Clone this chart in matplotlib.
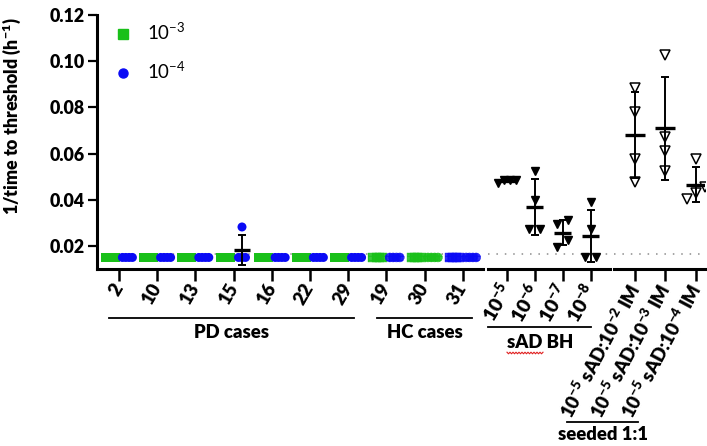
import matplotlib
matplotlib.use('Agg')
import matplotlib.pyplot as plt
from matplotlib.lines import Line2D
import numpy as np

plt.rcParams['font.family'] = ['Lato', 'DejaVu Sans']
plt.rcParams['mathtext.fontset'] = 'custom'
plt.rcParams['mathtext.rm'] = 'Lato'
plt.rcParams['mathtext.bf'] = 'Lato:heavy'
plt.rcParams['mathtext.it'] = 'Lato:italic'
plt.rcParams['hatch.color'] = '#202020'
plt.rcParams['hatch.linewidth'] = 0.7

# ---- data ----
pd_cases = ['2', '10', '13', '15', '16', '22', '29']
hc_cases = ['19', '30', '31']

# 1/time to threshold for 10^-3 and 10^-4 dilutions, 4 replicates each
pd_e3 = [[0.015, 0.015, 0.015, 0.015],
         [0.015, 0.015, 0.015, 0.015],
         [0.015, 0.015, 0.015, 0.015],
         [0.015, 0.015, 0.015, 0.015],
         [0.015, 0.015, 0.015, 0.015],
         [0.015, 0.015, 0.015, 0.015],
         [0.015, 0.015, 0.015, 0.015]]
pd_e4 = [[0.015, 0.015, 0.015, 0.015],
         [0.015, 0.015, 0.015, 0.015],
         [0.015, 0.015, 0.015, 0.015],
         [0.0282, 0.015, 0.015, 0.015],
         [0.015, 0.015, 0.015, 0.015],
         [0.015, 0.015, 0.015, 0.015],
         [0.015, 0.015, 0.015, 0.015]]
hc_e3 = [[0.015, 0.015, 0.015, 0.015],
         [0.015, 0.015, 0.015, 0.015],
         [0.015, 0.015, 0.015, 0.015]]
hc_e4 = [[0.015, 0.015, 0.015, 0.015],
         [0.015, 0.015, 0.015, 0.015],
         [0.015, 0.015, 0.015, 0.015]]

sad_labels = [r'$\mathbf{10^{-5}}$', r'$\mathbf{10^{-6}}$',
              r'$\mathbf{10^{-7}}$', r'$\mathbf{10^{-8}}$']
sad_vals = [[0.0486, 0.0486, 0.0486, 0.0474],
            [0.0526, 0.0399, 0.0272, 0.0272],
            [0.0295, 0.0313, 0.0226, 0.0197],
            [0.0388, 0.0272, 0.0154, 0.0154]]

seed_labels = [r'$\mathbf{10^{-5}}$ sAD:$\mathbf{10^{-2}}$ IM',
               r'$\mathbf{10^{-5}}$ sAD:$\mathbf{10^{-3}}$ IM',
               r'$\mathbf{10^{-5}}$ sAD:$\mathbf{10^{-4}}$ IM']
seed_vals = [[0.0882, 0.0781, 0.0576, 0.0475],
             [0.1028, 0.0673, 0.0612, 0.0523],
             [0.0576, 0.0453, 0.0431, 0.0401]]

threshold = 0.0165

# ---- styles ----
GREEN = '#19c019'
BLUE = '#0a0af5'
hc_colors = [(GREEN, BLUE), (GREEN, GREEN), (BLUE, BLUE)]
FS = 13.3
WT = 'heavy'

W, H = 707, 446
fig = plt.figure(figsize=(W / 100, H / 100), dpi=100)


def fx(px):
    return px / W


def fy(py):
    return 1 - py / H


def make_axes(x0, x1):
    return fig.add_axes([fx(x0), fy(269), fx(x1 - x0), (269 - 15) / H])


ax1 = make_axes(97, 483)
ax2 = make_axes(488, 610)
ax3 = make_axes(614, 705)

ax1.set_xlim(-0.576, 9.53)
ax2.set_xlim(-0.668, 3.69)
ax3.set_xlim(-0.69, 2.31)

for ax in (ax1, ax2, ax3):
    ax.set_ylim(0.01, 0.12)
    ax.spines['top'].set_visible(False)
    ax.spines['right'].set_visible(False)
    ax.spines['bottom'].set_linewidth(2.2)
    ax.spines['left'].set_linewidth(2.2)
    ax.tick_params(axis='x', length=8.5, width=1.8, pad=3)
    ax.axhline(threshold, color='#8c8c8c', lw=1.1, ls=(0, (1, 4.5)), zorder=1)
    ax.patch.set_alpha(0)

for ax in (ax2, ax3):
    ax.spines['left'].set_visible(False)
    ax.set_yticks([])

ax1.set_yticks([0.02, 0.04, 0.06, 0.08, 0.10, 0.12])
ax1.set_yticklabels(['0.02', '0.04', '0.06', '0.08', '0.10', '0.12'],
                    fontsize=12.8, fontweight=WT)
ax1.tick_params(axis='y', length=6.5, width=1.6, pad=2)
ax1.set_ylabel(r'1/time to threshold (h$\mathbf{^{-1}}$)', fontsize=12.8,
               fontweight=WT)
ax1.yaxis.set_label_coords(-0.19, 0.6)


def spread(ax, vals, max_half_px, size_px=8, step_px=11):
    """beeswarm-like horizontal offsets (data units) for overlapping points"""
    vals = np.asarray(vals, dtype=float)
    ppx = ax.bbox.width / np.diff(ax.get_xlim())[0]
    ppy = ax.bbox.height / np.diff(ax.get_ylim())[0]
    order = np.argsort(vals, kind='stable')
    clusters = [[order[0]]]
    for i in order[1:]:
        if (vals[i] - vals[clusters[-1][-1]]) * ppy < size_px:
            clusters[-1].append(i)
        else:
            clusters.append([i])
    off = np.zeros(len(vals))
    for c in clusters:
        n = len(c)
        if n > 1:
            step = min(step_px, 2 * max_half_px / (n - 1))
            off[c] = (np.arange(n) - (n - 1) / 2) * step / ppx
    return off


def mean_sd(ax, x, vals, half_w, zorder=5):
    vals = np.asarray(vals)
    m = vals.mean()
    sd = vals.std(ddof=1)
    ax.hlines(m, x - half_w, x + half_w, color='black', lw=2.4, zorder=zorder)
    if sd > 0:
        ax.errorbar(x, m, yerr=sd, fmt='none', ecolor='black', elinewidth=1.4,
                    capsize=3, capthick=1.4, zorder=zorder)


# ---- PD + HC cases ----
case_labels = pd_cases + hc_cases
all_e3 = pd_e3 + hc_e3
all_e4 = pd_e4 + hc_e4
sub = 0.22
for i, (v3, v4) in enumerate(zip(all_e3, all_e4)):
    is_hc = i >= len(pd_cases)
    c3, c4 = hc_colors[i - len(pd_cases)] if is_hc else (GREEN, BLUE)
    for v, col, mk, dx in ((v3, c3, 's', -sub), (v4, c4, 'o', sub)):
        x = i + dx + spread(ax1, v, 5, step_px=3.5)
        if is_hc:
            ax1.scatter(x, v, marker=mk, s=42, facecolor=col, edgecolor=col,
                        linewidths=0.3, hatch='++++', alpha=0.85, zorder=3)
        else:
            ax1.scatter(x, v, marker=mk, s=42, facecolor=col, edgecolor='none',
                        zorder=3)
        if np.std(v) > 0:
            mean_sd(ax1, i + dx, v, 0.2)

ax1.set_xticks(range(len(case_labels)))
ax1.set_xticklabels(case_labels, rotation=60, ha='right', va='center',
                    rotation_mode='anchor', fontsize=FS, fontweight=WT)

# ---- sAD BH dilutions ----
for i, v in enumerate(sad_vals):
    x = i + spread(ax2, v, 9)
    ax2.plot(x, v, 'v', ms=6.2, color='black', ls='none', zorder=3)
    mean_sd(ax2, i, v, 0.3)
ax2.set_xticks(range(len(sad_labels)))
ax2.set_xticklabels(sad_labels, rotation=60, ha='right', va='center',
                    rotation_mode='anchor', fontsize=14, fontweight=WT)

# ---- seeded 1:1 ----
for i, v in enumerate(seed_vals):
    x = i + spread(ax3, v, 9)
    ax3.plot(x, v, 'v', ms=6.8, mfc='white', mec='black', mew=1.1, ls='none',
             zorder=3)
    mean_sd(ax3, i, v, 0.33)
ax3.set_xticks(range(len(seed_labels)))
ax3.set_xticklabels(seed_labels, rotation=62, ha='right', va='center',
                    rotation_mode='anchor', fontsize=13.4, fontweight=WT)

# ---- legend ----
handles = [Line2D([], [], marker='s', color=GREEN, ls='none', ms=6.5),
           Line2D([], [], marker='o', color=BLUE, ls='none', ms=6.5)]
fig.legend(handles, [r'10$^{-3}$', r'10$^{-4}$'], loc='upper left',
           bbox_to_anchor=(fx(97), fy(5)), frameon=False, fontsize=13.5,
           handlelength=1.0, handletextpad=0.75, labelspacing=0.95)

# ---- group brackets ----
def bracket(x0, x1, y, text, ty):
    fig.add_artist(Line2D([fx(x0), fx(x1)], [fy(y), fy(y)], color='black',
                          lw=1.3))
    fig.text(fx((x0 + x1) / 2), fy(ty), text, ha='center', va='center',
             fontsize=FS, fontweight=WT)


bracket(109, 354, 318, 'PD cases', 332)
bracket(377, 472, 318, 'HC cases', 333)
fig.add_artist(Line2D([fx(488), fx(591)], [fy(327), fy(327)], color='black', lw=1.3))
fig.text(fx(540), fy(343), 'sAD BH', ha='center', va='center', fontsize=FS,
         fontweight=WT)
bracket(567, 638, 422, 'seeded 1:1', 434)

# spell-check squiggle under "sAD"
sq_x = np.arange(507, 544, 1.5)
sq_y = 353 + np.where(np.arange(len(sq_x)) % 2 == 0, -0.8, 0.8)
fig.add_artist(Line2D(fx(sq_x), fy(sq_y), color='#e02020', lw=0.8))

fig.savefig('out.png', dpi=100)
